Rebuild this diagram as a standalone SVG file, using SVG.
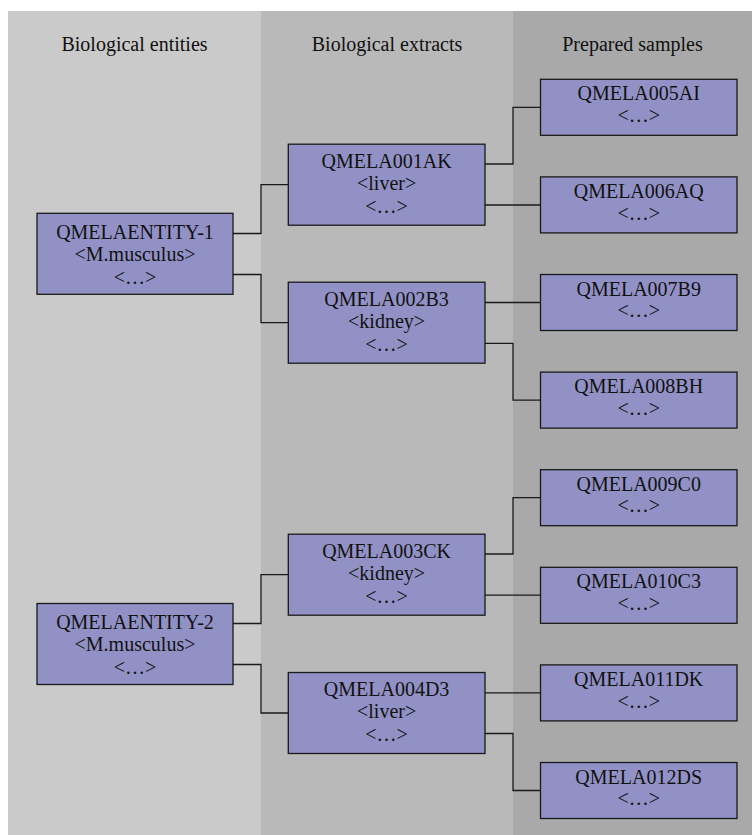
<svg xmlns="http://www.w3.org/2000/svg" width="752" height="835" viewBox="0 0 752 835">
<style>
.col1{fill:#cacaca}
.col2{fill:#b9b9b9}
.col3{fill:#a9a9a9}
.box{fill:#9191c6;stroke:#1a1a1a;stroke-width:1.3}
.t{font-family:"Liberation Serif","Times New Roman",serif;font-size:20px;fill:#111;text-anchor:middle}
.h{font-family:"Liberation Serif","Times New Roman",serif;font-size:20px;fill:#111;text-anchor:middle}
.c{fill:none;stroke:#1a1a1a;stroke-width:1.3}
</style>
<rect width="752" height="835" fill="#ffffff"/>
<g id="columns">
<rect class="col1" x="8" y="11" width="253" height="824"/>
<rect class="col2" x="261" y="11" width="252" height="824"/>
<rect class="col3" x="513" y="11" width="239" height="824"/>
<text class="h" x="134.5" y="51">Biological entities</text>
<text class="h" x="387" y="51">Biological extracts</text>
<text class="h" x="632.5" y="51">Prepared samples</text>
</g>
<g id="connectors">
<path class="c" d="M233,233.5 H261 V184.7 H288"/>
<path class="c" d="M233,274.5 H261 V322.7 H288"/>
<path class="c" d="M233,623.5 H261 V574.7 H288"/>
<path class="c" d="M233,664.5 H261 V713 H288"/>
<path class="c" d="M485,164 H513 V107.3 H540.5"/>
<path class="c" d="M485,205 H540.5"/>
<path class="c" d="M485,302.5 H540.5"/>
<path class="c" d="M485,343.3 H513 V400.1 H540.5"/>
<path class="c" d="M485,554 H513 V497.7 H540.5"/>
<path class="c" d="M485,595.2 H540.5"/>
<path class="c" d="M485,692.9 H540.5"/>
<path class="c" d="M485,733.5 H513 V790.5 H540.5"/>
</g>
<g id="QMELAENTITY-1">
<rect class="box" x="37" y="213.3" width="196" height="81"/>
<text class="t" x="135" y="239">QMELAENTITY-1</text>
<text class="t" x="135" y="261">&lt;M.musculus&gt;</text>
<text class="t" x="135" y="284">&lt;…&gt;</text>
</g>
<g id="QMELAENTITY-2">
<rect class="box" x="37" y="603.5" width="196" height="81"/>
<text class="t" x="135" y="628.5">QMELAENTITY-2</text>
<text class="t" x="135" y="650.5">&lt;M.musculus&gt;</text>
<text class="t" x="135" y="673.5">&lt;…&gt;</text>
</g>
<g id="QMELA001AK">
<rect class="box" x="288.3" y="144.2" width="196.7" height="81"/>
<text class="t" x="386.6" y="167.5">QMELA001AK</text>
<text class="t" x="386.6" y="189.5">&lt;liver&gt;</text>
<text class="t" x="386.6" y="212.5">&lt;…&gt;</text>
</g>
<g id="QMELA002B3">
<rect class="box" x="288.3" y="282.2" width="196.7" height="81"/>
<text class="t" x="386.6" y="305.5">QMELA002B3</text>
<text class="t" x="386.6" y="327.5">&lt;kidney&gt;</text>
<text class="t" x="386.6" y="350.5">&lt;…&gt;</text>
</g>
<g id="QMELA003CK">
<rect class="box" x="288.3" y="534.2" width="196.7" height="81"/>
<text class="t" x="386.6" y="557.5">QMELA003CK</text>
<text class="t" x="386.6" y="579.5">&lt;kidney&gt;</text>
<text class="t" x="386.6" y="602.5">&lt;…&gt;</text>
</g>
<g id="QMELA004D3">
<rect class="box" x="288.3" y="672.5" width="196.7" height="81"/>
<text class="t" x="386.6" y="695.8">QMELA004D3</text>
<text class="t" x="386.6" y="717.8">&lt;liver&gt;</text>
<text class="t" x="386.6" y="740.8">&lt;…&gt;</text>
</g>
<g id="QMELA005AI">
<rect class="box" x="540.5" y="79.3" width="196.5" height="56"/>
<text class="t" x="638.7" y="100.3">QMELA005AI</text>
<text class="t" x="638.7" y="122">&lt;…&gt;</text>
</g>
<g id="QMELA006AQ">
<rect class="box" x="540.5" y="176.9" width="196.5" height="56"/>
<text class="t" x="638.7" y="197.9">QMELA006AQ</text>
<text class="t" x="638.7" y="219.6">&lt;…&gt;</text>
</g>
<g id="QMELA007B9">
<rect class="box" x="540.5" y="274.5" width="196.5" height="56"/>
<text class="t" x="638.7" y="295.5">QMELA007B9</text>
<text class="t" x="638.7" y="317.2">&lt;…&gt;</text>
</g>
<g id="QMELA008BH">
<rect class="box" x="540.5" y="372.1" width="196.5" height="56"/>
<text class="t" x="638.7" y="393.1">QMELA008BH</text>
<text class="t" x="638.7" y="414.8">&lt;…&gt;</text>
</g>
<g id="QMELA009C0">
<rect class="box" x="540.5" y="469.7" width="196.5" height="56"/>
<text class="t" x="638.7" y="490.7">QMELA009C0</text>
<text class="t" x="638.7" y="512.4">&lt;…&gt;</text>
</g>
<g id="QMELA010C3">
<rect class="box" x="540.5" y="567.3" width="196.5" height="56"/>
<text class="t" x="638.7" y="588.3">QMELA010C3</text>
<text class="t" x="638.7" y="610">&lt;…&gt;</text>
</g>
<g id="QMELA011DK">
<rect class="box" x="540.5" y="664.9" width="196.5" height="56"/>
<text class="t" x="638.7" y="685.9">QMELA011DK</text>
<text class="t" x="638.7" y="707.6">&lt;…&gt;</text>
</g>
<g id="QMELA012DS">
<rect class="box" x="540.5" y="762.5" width="196.5" height="56"/>
<text class="t" x="638.7" y="783.5">QMELA012DS</text>
<text class="t" x="638.7" y="805.2">&lt;…&gt;</text>
</g>
</svg>
